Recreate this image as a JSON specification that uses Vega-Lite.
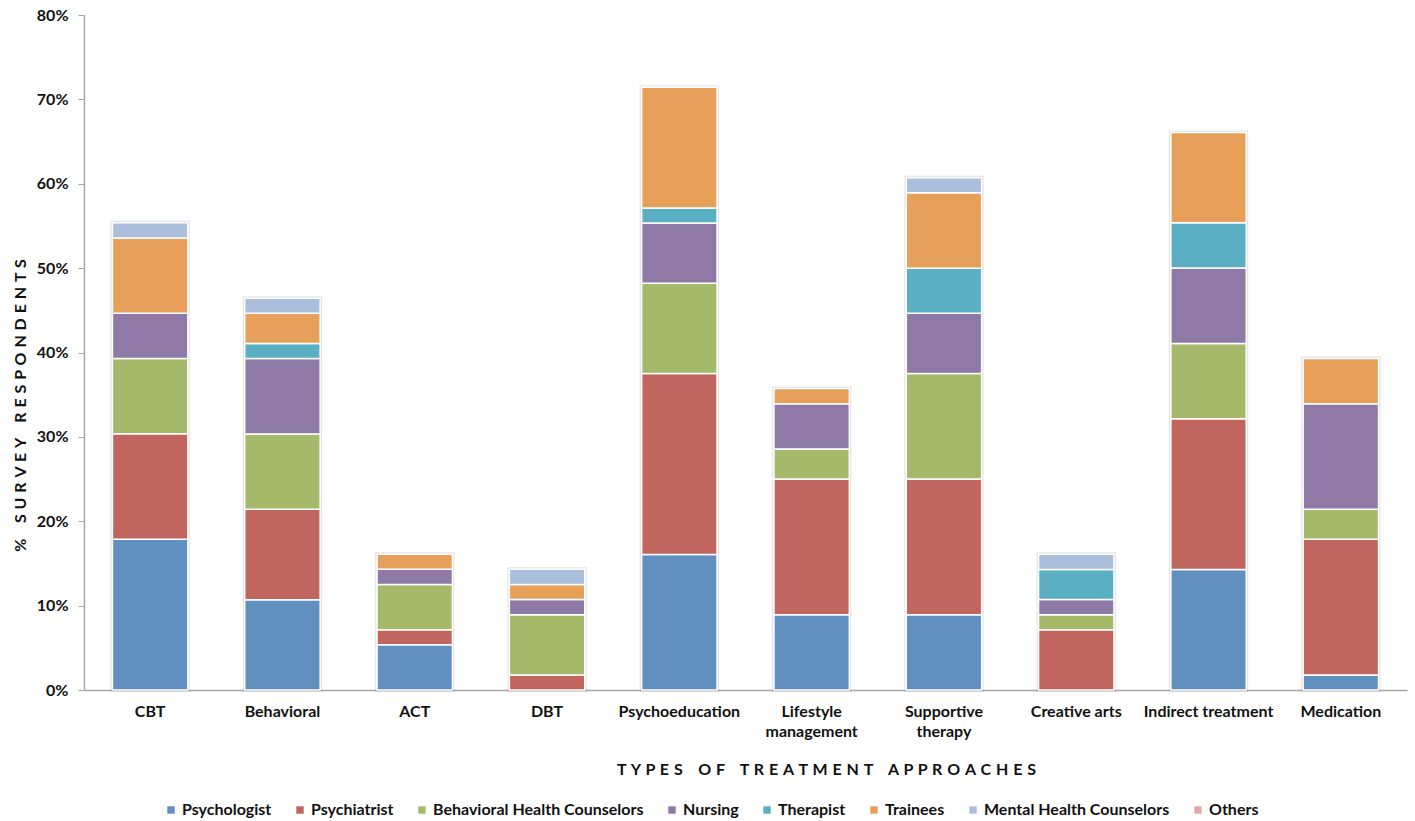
{
  "$schema": "https://vega.github.io/schema/vega-lite/v6.json",
  "autosize": "none",
  "width": 1323,
  "height": 675,
  "padding": {"left": 84, "top": 15, "right": 8, "bottom": 131},
  "background": "white",
  "config": {
    "view": {"stroke": null},
    "font": "Lato",
    "axis": {"labelFont": "Lato", "titleFont": "Lato"},
    "legend": {"labelFont": "Lato"}
  },
  "data": {
    "values": [
      {"approach": "CBT", "profession": "Psychologist", "pct": 17.86},
      {"approach": "CBT", "profession": "Psychiatrist", "pct": 12.5},
      {"approach": "CBT", "profession": "Behavioral Health Counselors", "pct": 8.93},
      {"approach": "CBT", "profession": "Nursing", "pct": 5.36},
      {"approach": "CBT", "profession": "Trainees", "pct": 8.93},
      {"approach": "CBT", "profession": "Mental Health Counselors", "pct": 1.79},

      {"approach": "Behavioral", "profession": "Psychologist", "pct": 10.71},
      {"approach": "Behavioral", "profession": "Psychiatrist", "pct": 10.71},
      {"approach": "Behavioral", "profession": "Behavioral Health Counselors", "pct": 8.93},
      {"approach": "Behavioral", "profession": "Nursing", "pct": 8.93},
      {"approach": "Behavioral", "profession": "Therapist", "pct": 1.79},
      {"approach": "Behavioral", "profession": "Trainees", "pct": 3.57},
      {"approach": "Behavioral", "profession": "Mental Health Counselors", "pct": 1.79},

      {"approach": "ACT", "profession": "Psychologist", "pct": 5.36},
      {"approach": "ACT", "profession": "Psychiatrist", "pct": 1.79},
      {"approach": "ACT", "profession": "Behavioral Health Counselors", "pct": 5.36},
      {"approach": "ACT", "profession": "Nursing", "pct": 1.79},
      {"approach": "ACT", "profession": "Trainees", "pct": 1.79},

      {"approach": "DBT", "profession": "Psychiatrist", "pct": 1.79},
      {"approach": "DBT", "profession": "Behavioral Health Counselors", "pct": 7.14},
      {"approach": "DBT", "profession": "Nursing", "pct": 1.79},
      {"approach": "DBT", "profession": "Trainees", "pct": 1.79},
      {"approach": "DBT", "profession": "Mental Health Counselors", "pct": 1.79},

      {"approach": "Psychoeducation", "profession": "Psychologist", "pct": 16.07},
      {"approach": "Psychoeducation", "profession": "Psychiatrist", "pct": 21.43},
      {"approach": "Psychoeducation", "profession": "Behavioral Health Counselors", "pct": 10.71},
      {"approach": "Psychoeducation", "profession": "Nursing", "pct": 7.14},
      {"approach": "Psychoeducation", "profession": "Therapist", "pct": 1.79},
      {"approach": "Psychoeducation", "profession": "Trainees", "pct": 14.29},

      {"approach": "Lifestyle management", "profession": "Psychologist", "pct": 8.93},
      {"approach": "Lifestyle management", "profession": "Psychiatrist", "pct": 16.07},
      {"approach": "Lifestyle management", "profession": "Behavioral Health Counselors", "pct": 3.57},
      {"approach": "Lifestyle management", "profession": "Nursing", "pct": 5.36},
      {"approach": "Lifestyle management", "profession": "Trainees", "pct": 1.79},

      {"approach": "Supportive therapy", "profession": "Psychologist", "pct": 8.93},
      {"approach": "Supportive therapy", "profession": "Psychiatrist", "pct": 16.07},
      {"approach": "Supportive therapy", "profession": "Behavioral Health Counselors", "pct": 12.5},
      {"approach": "Supportive therapy", "profession": "Nursing", "pct": 7.14},
      {"approach": "Supportive therapy", "profession": "Therapist", "pct": 5.36},
      {"approach": "Supportive therapy", "profession": "Trainees", "pct": 8.93},
      {"approach": "Supportive therapy", "profession": "Mental Health Counselors", "pct": 1.79},

      {"approach": "Creative arts", "profession": "Psychiatrist", "pct": 7.14},
      {"approach": "Creative arts", "profession": "Behavioral Health Counselors", "pct": 1.79},
      {"approach": "Creative arts", "profession": "Nursing", "pct": 1.79},
      {"approach": "Creative arts", "profession": "Therapist", "pct": 3.57},
      {"approach": "Creative arts", "profession": "Mental Health Counselors", "pct": 1.79},

      {"approach": "Indirect treatment", "profession": "Psychologist", "pct": 14.29},
      {"approach": "Indirect treatment", "profession": "Psychiatrist", "pct": 17.86},
      {"approach": "Indirect treatment", "profession": "Behavioral Health Counselors", "pct": 8.93},
      {"approach": "Indirect treatment", "profession": "Nursing", "pct": 8.93},
      {"approach": "Indirect treatment", "profession": "Therapist", "pct": 5.36},
      {"approach": "Indirect treatment", "profession": "Trainees", "pct": 10.71},

      {"approach": "Medication", "profession": "Psychologist", "pct": 1.79},
      {"approach": "Medication", "profession": "Psychiatrist", "pct": 16.07},
      {"approach": "Medication", "profession": "Behavioral Health Counselors", "pct": 3.57},
      {"approach": "Medication", "profession": "Nursing", "pct": 12.5},
      {"approach": "Medication", "profession": "Trainees", "pct": 5.36}
    ]
  },
  "encoding": {
    "x": {
      "field": "approach",
      "type": "nominal",
      "sort": ["CBT", "Behavioral", "ACT", "DBT", "Psychoeducation", "Lifestyle management", "Supportive therapy", "Creative arts", "Indirect treatment", "Medication"],
      "scale": {"paddingInner": 0.43, "paddingOuter": 0.215},
      "axis": {
        "title": "T\u00a0\u200aY\u00a0\u200aP\u00a0\u200aE\u00a0\u200aS\u00a0\u00a0\u00a0\u00a0O\u00a0\u200aF\u00a0\u00a0\u00a0\u00a0T\u00a0\u200aR\u00a0\u200aE\u00a0\u200aA\u00a0\u200aT\u00a0\u200aM\u00a0\u200aE\u00a0\u200aN\u00a0\u200aT\u00a0\u00a0\u00a0\u00a0A\u00a0\u200aP\u00a0\u200aP\u00a0\u200aR\u00a0\u200aO\u00a0\u200aA\u00a0\u200aC\u00a0\u200aH\u00a0\u200aE\u00a0\u200aS",
        "titleFontSize": 16,
        "titleFontWeight": "bold",
        "titleColor": "#111",
        "titleX": 742,
        "titleY": 79,
        "titleAlign": "center",
        "titleBaseline": "middle",
        "labelAngle": 0,
        "labelFontSize": 16,
        "labelFontWeight": "bold",
        "labelColor": "#111",
        "labelPadding": 13,
        "labelLineHeight": 20,
        "labelExpr": "datum.label == 'Lifestyle management' || datum.label == 'Supportive therapy' ? split(datum.label, ' ') : datum.label",
        "ticks": false,
        "domainColor": "#a6a6a6",
        "domainWidth": 1.5
      }
    },
    "y": {
      "field": "pct",
      "type": "quantitative",
      "stack": "zero",
      "scale": {"domain": [0, 80], "nice": false},
      "axis": {
        "title": "%\u00a0\u00a0\u00a0\u00a0S\u00a0\u200aU\u00a0\u200aR\u00a0\u200aV\u00a0\u200aE\u00a0\u200aY\u00a0\u00a0\u00a0\u00a0R\u00a0\u200aE\u00a0\u200aS\u00a0\u200aP\u00a0\u200aO\u00a0\u200aN\u00a0\u200aD\u00a0\u200aE\u00a0\u200aN\u00a0\u200aT\u00a0\u200aS",
        "titleFontSize": 16,
        "titleFontWeight": "bold",
        "titleColor": "#111",
        "titleAngle": -90,
        "titleX": -64,
        "titleY": 390,
        "titleAlign": "center",
        "titleBaseline": "middle",
        "values": [0, 10, 20, 30, 40, 50, 60, 70, 80],
        "labelExpr": "datum.value + '%'",
        "labelFontSize": 16,
        "labelFontWeight": "bold",
        "labelColor": "#111",
        "labelPadding": 10,
        "tickSize": 6,
        "tickColor": "#a6a6a6",
        "domainColor": "#a6a6a6",
        "domainWidth": 1.5,
        "grid": false
      }
    }
  },
  "layer": [
    {
      "transform": [
        {"aggregate": [{"op": "sum", "field": "pct", "as": "pct"}], "groupby": ["approach"]}
      ],
      "mark": {"type": "bar", "fill": "white", "stroke": "#000000", "strokeOpacity": 0.1, "strokeWidth": 4}
    },
    {
      "mark": {"type": "bar", "stroke": "white", "strokeWidth": 1.5},
      "encoding": {
        "order": {"field": "approach", "type": "ordinal"},
        "color": {
          "field": "profession",
          "type": "nominal",
          "sort": ["Psychologist", "Psychiatrist", "Behavioral Health Counselors", "Nursing", "Therapist", "Trainees", "Mental Health Counselors", "Others"],
          "scale": {
            "domain": ["Psychologist", "Psychiatrist", "Behavioral Health Counselors", "Nursing", "Therapist", "Trainees", "Mental Health Counselors", "Others"],
            "range": ["#6190c0", "#c0665e", "#a5b96b", "#8f79a6", "#5aafc2", "#e6a05a", "#abbedc", "#e5a9a8"]
          },
          "legend": {
            "title": null,
            "orient": "none",
            "direction": "horizontal",
            "legendX": 79,
            "legendY": 787,
            "symbolType": "square",
            "symbolSize": 55,
            "symbolStrokeWidth": 0,
            "labelFontSize": 16,
            "labelFontWeight": "bold",
            "labelColor": "#111",
            "labelOffset": 3,
            "labelLimit": 400,
            "columnPadding": 20
          }
        }
      }
    }
  ]
}
